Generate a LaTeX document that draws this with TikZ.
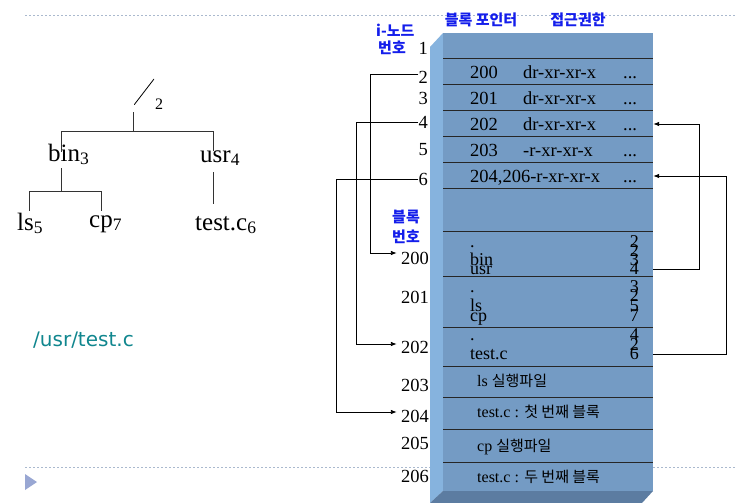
\documentclass[tikz,border=0pt]{standalone}
\usepackage{fontspec}
\usepackage{tikz}
\usetikzlibrary{arrows.meta}
\setmainfont{Liberation Serif}
\newfontfamily\kr{Noto Sans CJK KR}
\newfontfamily\pathfont{DejaVu Sans}
\definecolor{facefront}{RGB}{116,155,196}
\definecolor{faceside}{RGB}{134,179,222}
\definecolor{facebottom}{RGB}{92,124,161}
\definecolor{guideline}{RGB}{170,185,206}
\definecolor{labelblue}{RGB}{20,30,235}
\definecolor{pathteal}{RGB}{16,134,142}
\newcommand\krtext[1]{{\kr\fontsize{15}{16}\selectfont #1}}

\begin{document}
\begin{tikzpicture}[x=1pt, y=-1pt,
  num/.style={font=\fontsize{18.5}{20}\selectfont, inner sep=0pt, anchor=east},
  cell/.style={font=\fontsize{18.5}{20}\selectfont, inner sep=0pt, text height=12.5pt, text depth=0pt, anchor=west},
  entry/.style={font=\fontsize{18}{18}\selectfont, inner sep=0pt},
  head/.style={font=\kr\bfseries\fontsize{15}{16}\selectfont, text=labelblue, inner sep=0pt},
  blocktext/.style={font=\fontsize{16}{18}\selectfont, inner sep=0pt, anchor=west},
  tree/.style={font=\fontsize{25}{26}\selectfont, inner sep=0pt, anchor=base west},
  link/.style={draw=black, line width=0.8pt, -{Latex[length=6pt,width=4.5pt]}},
  branch/.style={draw=black!80, line width=0.8pt},
  rowline/.style={draw=black!85, line width=0.9pt},
  guide/.style={draw=guideline, line width=0.9pt, dash pattern=on 2pt off 2pt},
  slashnode/.style={minimum width=20pt, minimum height=26pt, inner sep=0pt,
    path picture={\draw[line width=0.8pt] (path picture bounding box.south west) -- (path picture bounding box.north east);}}
]
\useasboundingbox (0,0) rectangle (737,503);

% page rules
\draw[guide] (25,15) -- (737,15);
\draw[guide] (25,467) -- (737,467);
\fill[guideline!90!blue] (25,474) -- (37,482) -- (25,490) -- cycle;

% directory tree
\node[slashnode] (root) at (144,92) {};
\node[font=\fontsize{16}{16}\selectfont, inner sep=0pt] (rootnum) at (159,104) {2};
\node[tree] (bin) at (48,161) {bin\textsubscript{3}};
\node[tree] (usr) at (200,162) {usr\textsubscript{4}};
\node[tree] (ls) at (17,230) {ls\textsubscript{5}};
\node[tree] (cp) at (89,227) {cp\textsubscript{7}};
\node[tree] (testc) at (195,230) {test.c\textsubscript{6}};

\draw[branch] ([yshift=-7pt]root.south west) -- ++(0,19) coordinate (rootfork);
\draw[branch] (rootfork) -| ([xshift=13pt,yshift=-9pt]bin.north west);
\draw[branch] (rootfork) -| ([xshift=13pt,yshift=-1pt]usr.north west);
\draw[branch] ([xshift=13pt,yshift=-7pt]bin.base west) -- ++(0,23) coordinate (binfork);
\draw[branch] (binfork) -| ([xshift=12pt,yshift=19pt]ls.base west);
\draw[branch] (binfork) -| ([xshift=12pt,yshift=16pt]cp.base west);
\draw[branch] ([xshift=13pt,yshift=-10pt]usr.base west) -- ([xshift=18pt,yshift=26pt]testc.base west);

\node[font=\pathfont\fontsize{20}{22}\selectfont, text=pathteal, inner sep=0pt, anchor=west] (pathname) at (33,340) {/usr/test.c};

% disk box
\fill[faceside] (430,47) -- (443,33) -- (443,491) -- (430,503) -- cycle;
\fill[facebottom] (430,503) -- (443,491) -- (653,491) -- (642,503) -- cycle;
\node[fill=facefront, minimum width=210pt, minimum height=458pt, inner sep=0pt] (front) at (548,262) {};
\foreach \y in {58,84,110,136,162,188,231,276,327,366,397,429,462}
  \draw[rowline] (443,\y) -- (653,\y);

% headings
\node[head] (hptr) at (481,20) {블록 포인터};
\node[head] (hperm) at (578,20) {접근권한};
\node[head, anchor=west] (hinode) at (376,30) {i-노드};
\node[head, anchor=west] (hinum) at (378,48) {번호};
\node[head, anchor=west] (hblk) at (392,217) {블록};
\node[head, anchor=west] (hbnum) at (392,237) {번호};

% i-node table
\foreach \n/\y in {1/48,2/77,3/98,4/122,5/150,6/179}
  \node[num] (i\n) at (428,\y) {\n};
\foreach \r/\blk/\perm/\y in {2/200/dr-xr-xr-x/72, 3/201/dr-xr-xr-x/98, 4/202/dr-xr-xr-x/124, 5/203/-r-xr-xr-x/150} {
  \node[cell] (p\r) at (470,\y) {\blk};
  \node[cell] (m\r) at (523,\y) {\perm};
  \node[cell] (r\r) at (623,\y) {...};
}
\node[cell] (p6) at (470,176) {204,206-r-xr-xr-x};
\node[cell] (r6) at (623,176) {...};

% data blocks
\foreach \b/\y in {200/258,201/297,202/347,203/385,204/416,205/443,206/476}
  \node[num] (b\b) at (429,\y) {\b};
\foreach \d [count=\k] in {2,2,3,4}
  \node[entry, anchor=base east] (d200-\k) at (639,{237.7+9.3*\k}) {\d};
\foreach \d [count=\k] in {3,2,5,7}
  \node[entry, anchor=base east] (d201-\k) at (639,{282.3+9.7*\k}) {\d};
\foreach \d [count=\k] in {4,2,6}
  \node[entry, anchor=base east] (d202-\k) at (639,{331+9.6*\k}) {\d};
\node[entry, anchor=base west] (n200-1) at (470,247) {.};
\node[entry, anchor=base west] (n200-3) at (470,265.6) {bin};
\node[entry, anchor=base west] (n200-4) at (470,274.9) {usr};
\node[entry, anchor=base west] (n201-1) at (470,292) {.};
\node[entry, anchor=base west] (n201-3) at (470,311.4) {ls};
\node[entry, anchor=base west] (n201-4) at (470,321.1) {cp};
\node[entry, anchor=base west] (n202-1) at (470,340.6) {.};
\node[entry, anchor=base west] (n202-3) at (470,359.8) {test.c};

\node[blocktext] (c203) at (477,381) {ls \krtext{실행파일}};
\node[blocktext] (c204) at (477,412) {test.c : \krtext{첫 번째 블록}};
\node[blocktext] (c205) at (477,447) {cp \krtext{실행파일}};
\node[blocktext] (c206) at (477,477) {test.c : \krtext{두 번째 블록}};

% links
\draw[link, shorten >=4pt] ([yshift=3pt]i2.west) -- ++(-48,0) |- ([yshift=5pt]b200.west);
\draw[link, shorten >=4pt] (i4.west) -- ++(-62,0) |- ([yshift=3pt]b202.west);
\draw[link, shorten >=4pt] (i6.west) -- ++(-82,0) |- ([yshift=4pt]b204.west);
\draw[link] (front.east |- d200-4) -- ++(46,0) |- (front.east |- r4);
\draw[link] (front.east |- d202-3) -- ++(73,0) |- (front.east |- r6);
\end{tikzpicture}
\end{document}
